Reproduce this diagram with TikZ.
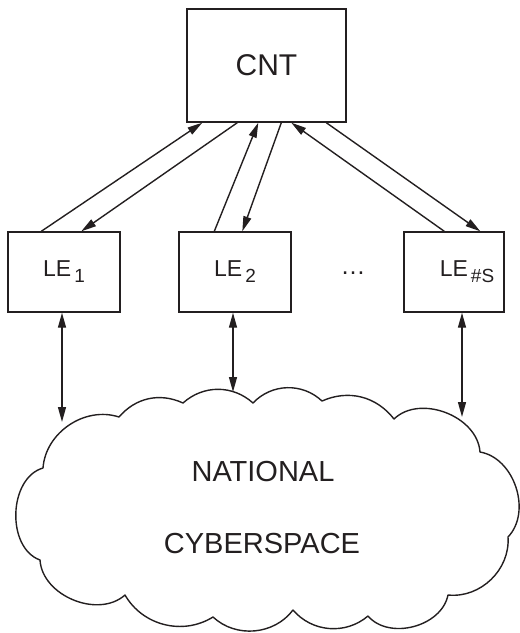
\documentclass[tikz,border=0pt]{standalone}
\usepackage{fontspec}
\setmainfont{Liberation Sans}
\usetikzlibrary{arrows.meta}
\definecolor{ink}{RGB}{35,31,32}
% lowered, slightly smaller index after "LE"
\newcommand\lesub[1]{\kern3pt\raisebox{-6pt}{\fontsize{19}{19}\selectfont #1}}
\begin{document}
\begin{tikzpicture}[x=1pt,y=-1pt,
  line width=1.4pt, draw=ink, text=ink,
  box/.style={draw=ink, line width=1.4pt, inner sep=0pt,
    font=\fontsize{23}{23}\selectfont},
  lebox/.style={box, minimum width=112pt, minimum height=80pt},
  tip/.tip={Triangle[length=15pt,width=8pt]},
  link/.style={-tip},
  both/.style={tip-tip},
  cloudline/.style={draw=ink, line width=1.4pt, line join=round}]
\useasboundingbox (0,0) rectangle (520,633);

% central node and local entities
\node[box, minimum width=159pt, minimum height=113pt,
      font=\fontsize{30}{30}\selectfont] (cnt) at (266.5,65.5) {CNT};
\node[lebox] (le1) at (64,272) {LE\lesub{1}};
\node[lebox] (le2) at (235,272) {LE\lesub{2}};
\node[lebox, minimum width=100pt] (les) at (454,272) {\hspace*{26pt}LE\lesub{\#S}};
\node[font=\fontsize{25}{25}\selectfont] (dots) at (353,273) {…};

% cloud outline, bumps traced clockwise
\draw[cloudline] (43,468) to[bend left=52] (119,417) to[bend left=37] (183,403)
  to[bend left=42] (253,403) to[bend left=45] (322,401) to[bend left=38] (394,419)
  to[bend left=65] (480,452) to[bend left=62] (508,537) to[bend left=50] (448,595)
  to[bend left=64] (368,616) to[bend left=45] (293,610) to[bend left=48] (213,617)
  to[bend left=46] (125,595) to[bend left=64] (40,560) to[bend left=72] (43,468) -- cycle;
\node[font=\fontsize{29}{29}\selectfont] (nat) at (263,471.5) {NATIONAL};
\node[font=\fontsize{29}{29}\selectfont] (cyb) at (262,544) {CYBERSPACE};

% points where the links meet the cloud
\coordinate (c1) at (62,422);
\coordinate (c2) at (233,392);
\coordinate (c3) at (462,417);

% links between CNT and the local entities
\draw[link] ([xshift=34pt]le1.north west) -- ([xshift=16pt]cnt.south west);
\draw[link] ([xshift=51pt]cnt.south west) -- ([xshift=74pt]le1.north west);
\draw[link] ([xshift=36pt]le2.north west) -- ([xshift=72pt]cnt.south west);
\draw[link] ([xshift=95pt]cnt.south west) -- ([xshift=64pt]le2.north west);
\draw[link] ([xshift=41pt]les.north west) -- ([xshift=105pt]cnt.south west);
\draw[link] ([xshift=140pt]cnt.south west) -- ([xshift=77pt]les.north west);

% links between the local entities and the cloud
\draw[both] ([xshift=-2pt]le1.south) -- (c1);
\draw[both] ([xshift=-2pt]le2.south) -- (c2);
\draw[both] ([xshift=8pt]les.south) -- (c3);
\end{tikzpicture}
\end{document}
